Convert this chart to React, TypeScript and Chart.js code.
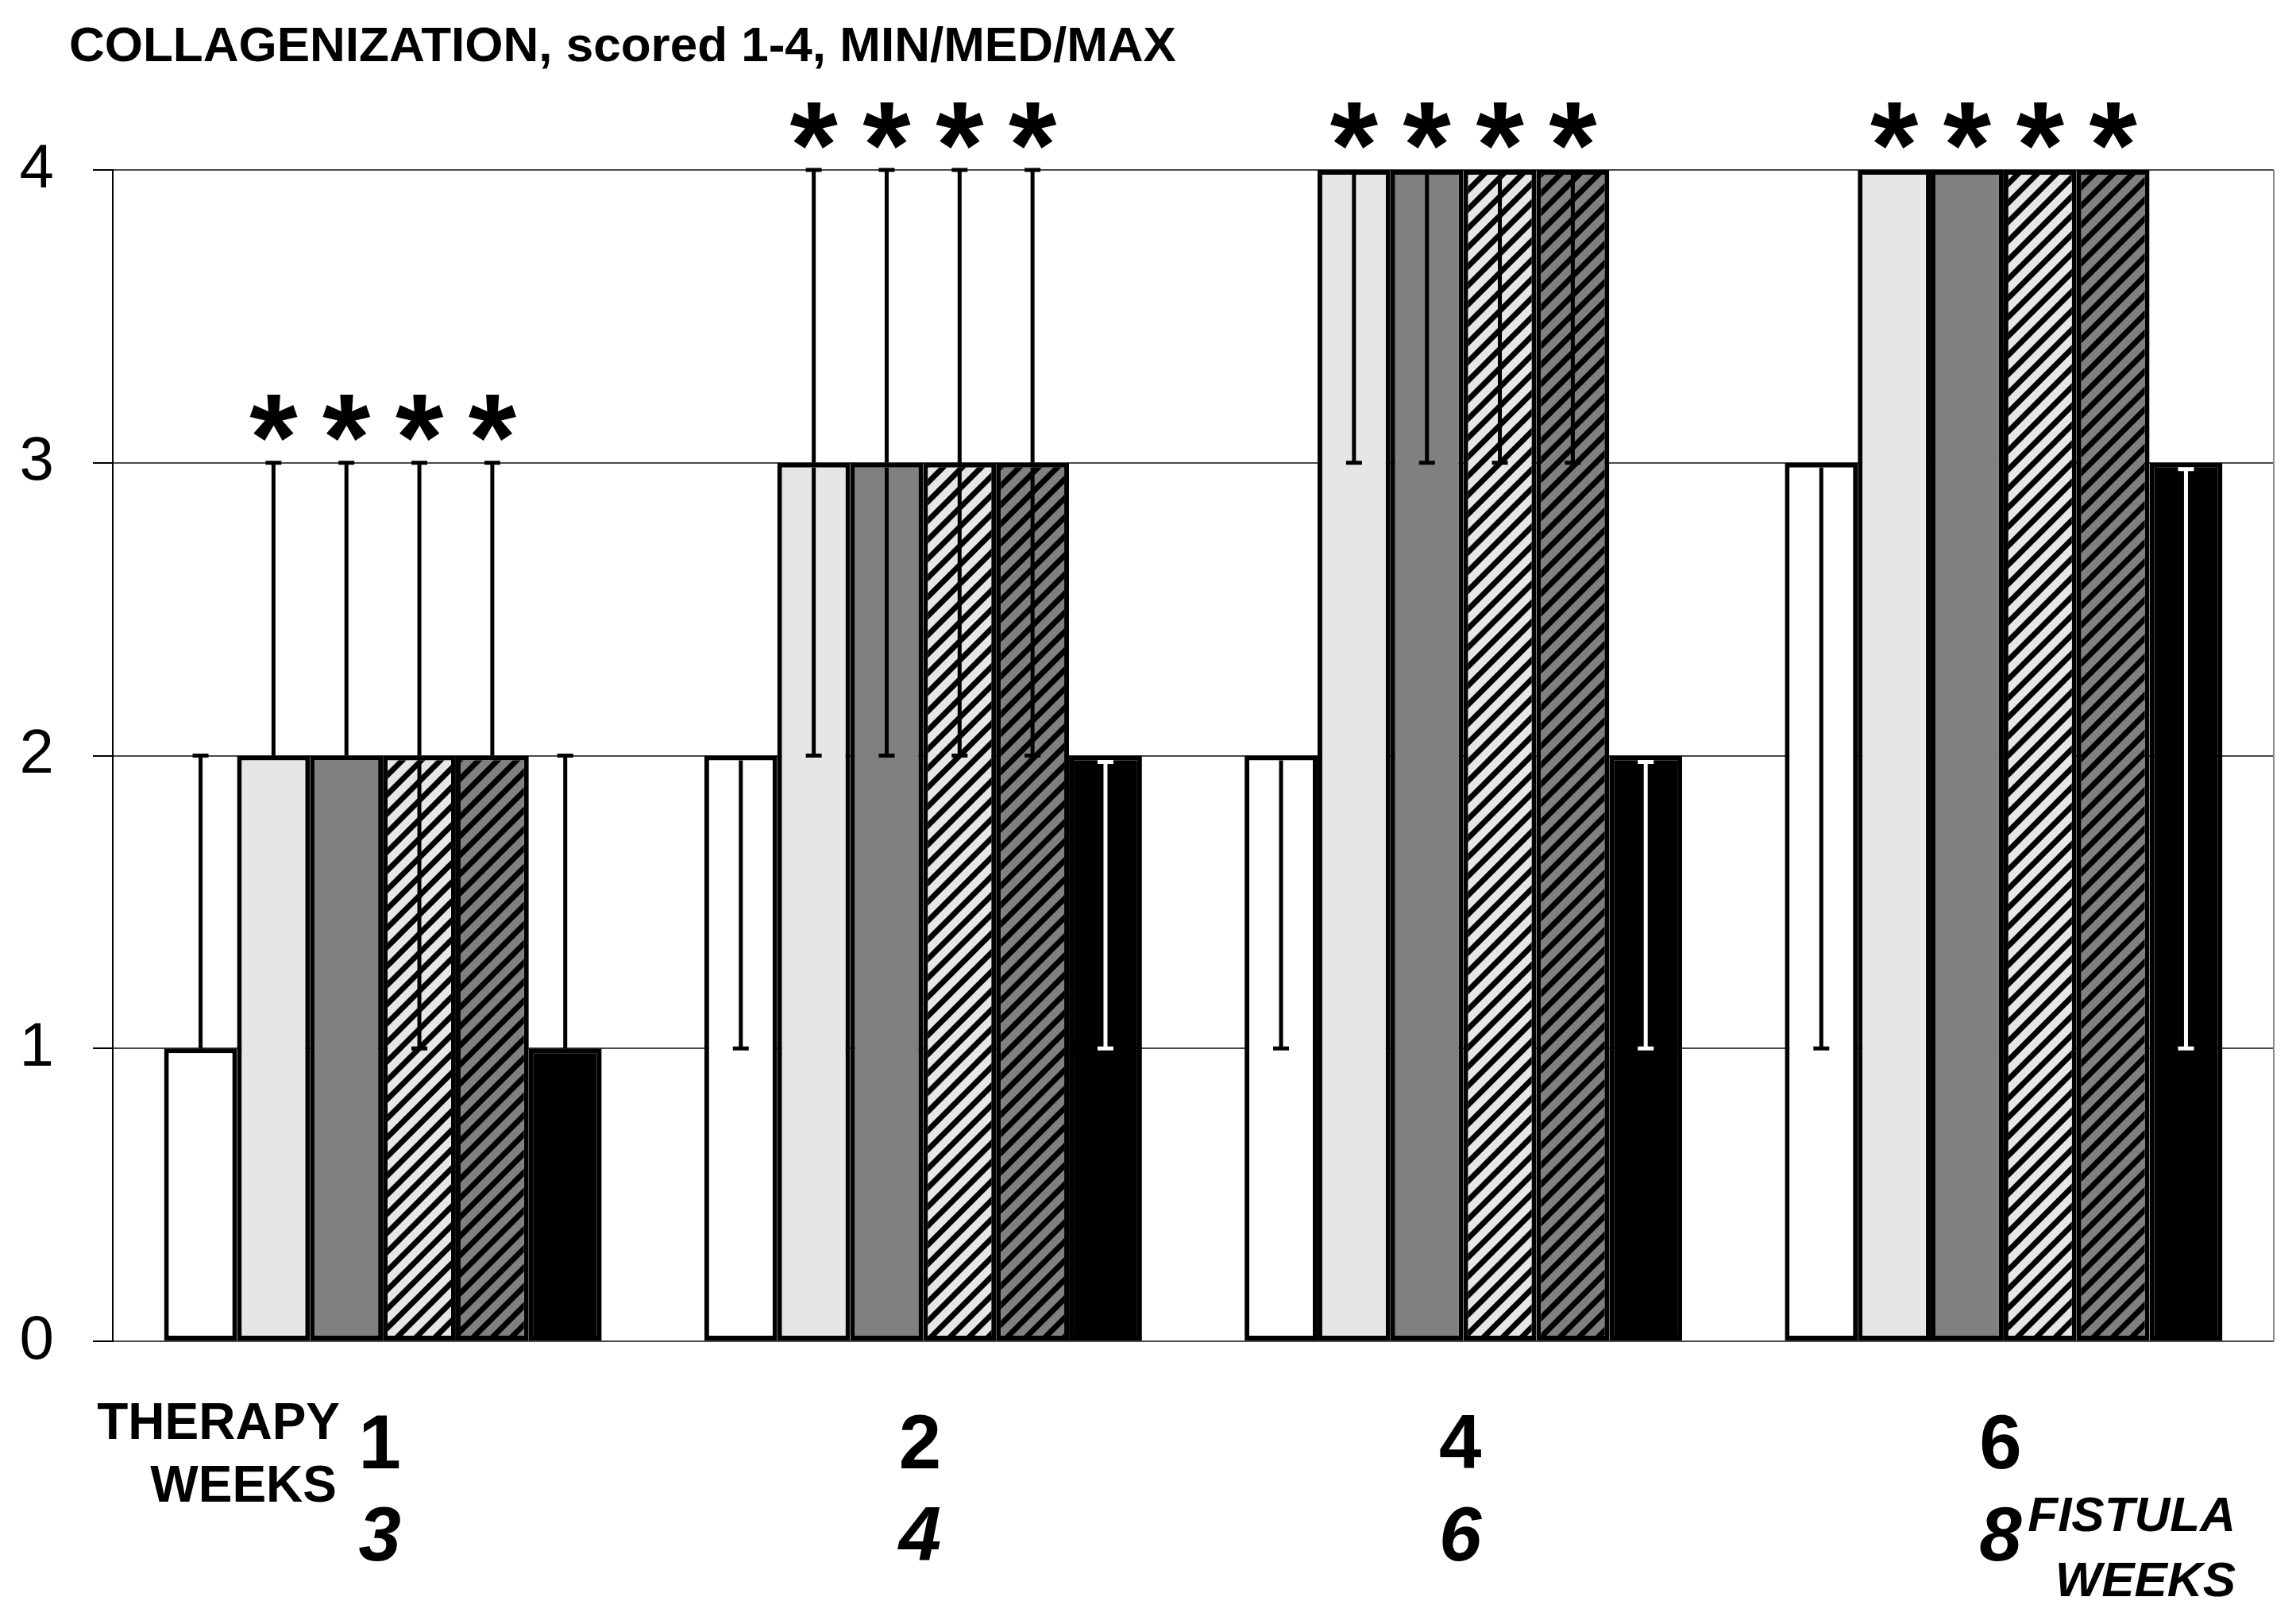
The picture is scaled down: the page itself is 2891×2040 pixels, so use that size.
import React, { useEffect, useRef } from "react";
import { Chart, registerables } from "chart.js";

Chart.register(...registerables);

// ---- data ----
const therapyWeeks = ["1", "2", "4", "6"];
const fistulaWeeks = ["3", "4", "6", "8"];
const seriesNames = ["Group 1", "Group 2", "Group 3", "Group 4", "Group 5", "Group 6"];
const medians = [
  [1, 2, 2, 3],
  [2, 3, 4, 4],
  [2, 3, 4, 4],
  [2, 3, 4, 4],
  [2, 3, 4, 4],
  [1, 2, 2, 3],
];
const mins = [
  [1, 1, 1, 1],
  [2, 2, 3, 4],
  [2, 2, 3, 4],
  [1, 2, 3, 4],
  [2, 2, 3, 4],
  [1, 1, 1, 1],
];
const maxs = [
  [2, 2, 2, 3],
  [3, 4, 4, 4],
  [3, 4, 4, 4],
  [3, 4, 4, 4],
  [3, 4, 4, 4],
  [2, 2, 2, 3],
];
const significant = [
  [false, false, false, false],
  [true, true, true, true],
  [true, true, true, true],
  [true, true, true, true],
  [true, true, true, true],
  [false, false, false, false],
];
const yTicks = [0, 1, 2, 3, 4];
const titleText = "COLLAGENIZATION, scored 1-4, MIN/MED/MAX";

const FONT = "'Liberation Sans', Arial, Helvetica, sans-serif";

export default function App() {
  const ref = useRef<HTMLCanvasElement | null>(null);

  useEffect(() => {
    document.body.style.margin = "0";
    const canvas = ref.current!;
    const mainCtx = canvas.getContext("2d")!;

    const hatch = (bg: string) => {
      const s = 24;
      const c = document.createElement("canvas");
      c.width = s;
      c.height = s;
      const g = c.getContext("2d")!;
      g.fillStyle = bg;
      g.fillRect(0, 0, s, s);
      g.strokeStyle = "#000";
      g.lineWidth = 7;
      g.beginPath();
      g.moveTo(-s / 2, s / 2);
      g.lineTo(s / 2, -s / 2);
      g.moveTo(-2, s + 2);
      g.lineTo(s + 2, -2);
      g.moveTo(s / 2, s * 1.5);
      g.lineTo(s * 1.5, s / 2);
      g.stroke();
      return mainCtx.createPattern(c, "repeat") as CanvasPattern;
    };

    const fills: (string | CanvasPattern)[] = [
      "#ffffff",
      "#e6e6e6",
      "#808080",
      hatch("#e6e6e6"),
      hatch("#808080"),
      "#000000",
    ];

    const overlay = {
      id: "overlay",
      afterDatasetsDraw(chart: any) {
        const ctx = chart.ctx as CanvasRenderingContext2D;
        const ys = chart.scales.y;
        ctx.save();
        ctx.lineWidth = 5;
        const cap = 10;
        const seg = (x: number, y1: number, y2: number, col: string) => {
          ctx.strokeStyle = col;
          ctx.beginPath();
          ctx.moveTo(x, y1);
          ctx.lineTo(x, y2);
          ctx.stroke();
        };
        const capAt = (x: number, y: number, col: string) => {
          ctx.strokeStyle = col;
          ctx.beginPath();
          ctx.moveTo(x - cap, y);
          ctx.lineTo(x + cap, y);
          ctx.stroke();
        };
        chart.data.datasets.forEach((_ds: any, di: number) => {
          const meta = chart.getDatasetMeta(di);
          meta.data.forEach((bar: any, i: number) => {
            const lo = mins[di][i];
            const hi = maxs[di][i];
            const med = medians[di][i];
            if (lo === hi) return;
            const x = bar.x;
            const yLo = ys.getPixelForValue(lo);
            const yHi = ys.getPixelForValue(hi);
            const yMed = ys.getPixelForValue(med);
            const dark = di === 5;
            const inside = dark ? "#ffffff" : "#000000";
            if (hi > med) {
              seg(x, yMed, yHi, "#000000");
              capAt(x, yHi, "#000000");
            } else if (dark) {
              capAt(x, yHi + 8, inside);
            }
            if (lo < med) {
              seg(x, yLo, yMed + 6, inside);
              capAt(x, yLo, inside);
            }
          });
        });
        ctx.restore();
      },
      afterDraw(chart: any) {
        const ctx = chart.ctx as CanvasRenderingContext2D;
        const ys = chart.scales.y;
        const xs = chart.scales.x;
        const area = chart.chartArea;
        ctx.save();
        // right border of plot
        ctx.strokeStyle = "#8a8a8a";
        ctx.lineWidth = 2;
        ctx.beginPath();
        ctx.moveTo(area.right, area.top);
        ctx.lineTo(area.right, area.bottom);
        ctx.stroke();

        ctx.fillStyle = "#000";
        // title
        ctx.font = `bold 62px ${FONT}`;
        ctx.textAlign = "left";
        ctx.textBaseline = "alphabetic";
        ctx.fillText(titleText, 87, 77);

        // asterisks
        ctx.font = `bold 155px ${FONT}`;
        ctx.textAlign = "center";
        const m = ctx.measureText("*");
        const asc = m.actualBoundingBoxAscent;
        const desc = m.actualBoundingBoxDescent;
        chart.data.datasets.forEach((_ds: any, di: number) => {
          const meta = chart.getDatasetMeta(di);
          meta.data.forEach((bar: any, i: number) => {
            if (!significant[di][i]) return;
            const cy = ys.getPixelForValue(maxs[di][i]) - 56;
            const base = cy - (desc - asc) / 2;
            ctx.fillText("*", bar.x, base);
          });
        });

        // category labels
        therapyWeeks.forEach((t, i) => {
          const cx = xs.getPixelForValue(i) - 4;
          ctx.textAlign = "center";
          ctx.font = `bold 96px ${FONT}`;
          ctx.fillText(t, cx, 1849);
          ctx.font = `italic bold 96px ${FONT}`;
          ctx.fillText(fistulaWeeks[i], cx, 1965);
        });

        ctx.textAlign = "right";
        ctx.font = `bold 64px ${FONT}`;
        ctx.fillText("THERAPY", 428, 1812);
        ctx.fillText("WEEKS", 424, 1891);
        ctx.font = `italic bold 62px ${FONT}`;
        ctx.fillText("FISTULA", 2815, 1928);
        ctx.fillText("WEEKS", 2815, 2010);
        ctx.restore();
      },
    };

    const chart = new Chart(canvas, {
      type: "bar",
      data: {
        labels: therapyWeeks,
        datasets: seriesNames.map((name, di) => ({
          label: name,
          data: medians[di],
          backgroundColor: fills[di] as any,
          borderColor: "#000000",
          borderWidth: 6,
          borderSkipped: false,
          categoryPercentage: 0.81,
          barPercentage: 1.0,
        })),
      },
      options: {
        responsive: false,
        devicePixelRatio: 1,
        animation: false,
        layout: { padding: { top: 214, bottom: 351, left: 0, right: 28 } },
        plugins: {
          legend: { display: false },
          tooltip: { enabled: false },
          title: { display: false },
        },
        scales: {
          x: { display: false },
          y: {
            min: 0,
            max: 4,
            afterFit: (scale: any) => {
              scale.width = 142;
            },
            afterBuildTicks: (scale: any) => {
              scale.ticks = yTicks.map((v) => ({ value: v }));
            },
            ticks: {
              stepSize: 1,
              color: "#000",
              padding: 49,
              font: { family: FONT, size: 78 },
            },
            grid: {
              color: "#4a4a4a",
              lineWidth: 2,
              drawTicks: true,
              tickLength: 25,
              tickColor: "#000",
            },
            border: { display: true, color: "#000", width: 2 },
          },
        },
      },
      plugins: [overlay],
    });

    return () => chart.destroy();
  }, []);

  return (
    <div style={{ width: 2891, height: 2040, background: "#fff" }}>
      <canvas ref={ref} width={2891} height={2040} style={{ display: "block" }} />
    </div>
  );
}
